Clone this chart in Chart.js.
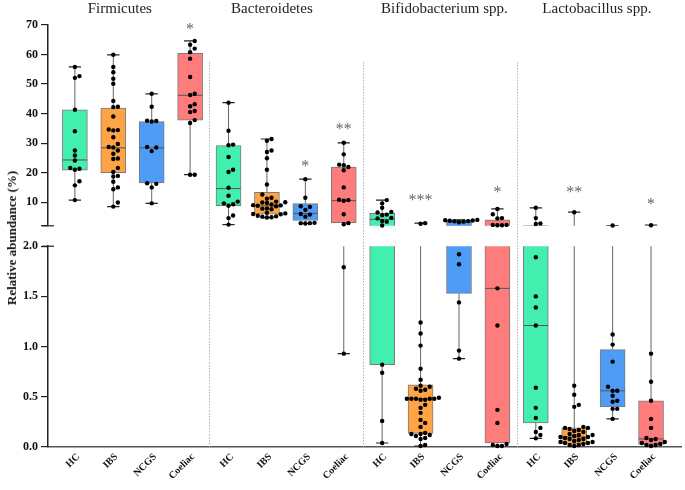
<!DOCTYPE html>
<html>
<head>
<meta charset="utf-8">
<script src="https://cdn.jsdelivr.net/npm/chart.js@4.4.1/dist/chart.umd.min.js"></script>
<style>
  body { margin: 0; background: #fff; }
  #wrap { position: relative; width: 685px; height: 490px; overflow: hidden; }
  #topChart { position: absolute; left: 0; top: 0; }
  #bottomChart { position: absolute; left: 0; top: 236px; }
  #yTitle {
    position: absolute; left: 12px; top: 238px;
    transform: translate(-50%, -50%) rotate(-90deg);
    font: bold 13px "Liberation Serif", serif; color: #111; white-space: nowrap;
  }
  .cohort {
    position: absolute; height: 12px; line-height: 12px;
    font: bold 10px "Liberation Serif", serif; color: #111; white-space: nowrap;
    transform-origin: 100% 50%; transform: rotate(-45deg);
  }
</style>
</head>
<body>
<div id="wrap">
  <canvas id="topChart" width="685" height="236"></canvas>
  <canvas id="bottomChart" width="685" height="254"></canvas>
  <div id="yTitle">Relative abundance (%)</div>
</div>
<script>
// Groups, one per x position (4 cohorts x 4 taxa)
const cohorts = ['HC', 'IBS', 'NCGS', 'Coeliac'];
const taxa = ['Firmicutes', 'Bacteroidetes', 'Bifidobacterium spp.', 'Lactobacillus spp.'];
const taxaTitleX = [1.17, 5.13, 9.62, 13.59];
const cohortColors = ['#43EFAF', '#FFA444', '#4F9CF7', '#FF7C7C'];

// Box statistics (16 groups)
const boxMin = [10.7, 8.5, 9.6, 19.3, 2.4, 4.8, 2.8, 0.93, 0.04, 0.01, 0.88, 0.01, 0.086, 0.01, 0.28, 0.01];
const boxQ1 = [20.8, 20.0, 16.5, 37.8, 8.8, 5.9, 3.8, 3.1, 0.82, 0.135, 1.53, 0.04, 0.24, 0.03, 0.40, 0.026];
const boxMedian = [24.3, 28.4, 28.4, 46.2, 14.6, 8.8, 6.2, 10.5, 4.2, 0.48, 3.3, 1.58, 1.21, 0.10, 0.56, 0.08];
const boxQ3 = [41.3, 41.9, 37.3, 60.4, 29.2, 13.3, 9.5, 21.9, 6.2, 0.62, 4.0, 4.0, 2.05, 0.19, 0.97, 0.46];
const boxMax = [55.8, 59.9, 46.7, 64.6, 43.7, 31.4, 17.8, 30.1, 10.7, 2.9, 4.0, 7.7, 8.1, 6.6, 2.1, 2.2];

// Individual samples
const firmicutesPoints = [
  [55.8, 52.7, 52.1, 41.3, 34.0, 27.5, 25.8, 24.1, 21.6, 21.3, 21.0, 17.1, 15.7, 10.7],
  [59.9, 55.8, 54.0, 51.8, 50.1, 44.3, 42.3, 42.2, 39.0, 34.6, 34.4, 34.3, 32.0, 29.7, 28.7, 28.5, 27.5, 26.4, 24.8, 24.6, 21.6, 20.2, 18.9, 18.7, 16.9, 15.0, 14.4, 9.9, 8.5],
  [46.7, 42.3, 37.6, 37.5, 37.3, 28.7, 28.5, 27.3, 16.4, 16.2, 15.0, 9.6],
  [64.6, 63.3, 62.0, 60.8, 58.6, 52.4, 46.7, 46.3, 43.2, 42.5, 40.9, 40.5, 37.8, 36.8, 19.3, 19.3]
];
const bacteroidetesPoints = [
  [43.7, 34.2, 29.5, 29.3, 25.3, 21.0, 20.2, 14.9, 12.2, 10.2, 9.6, 9.3, 8.8, 5.5, 4.6, 2.4],
  [31.4, 30.8, 27.5, 27.0, 24.9, 21.0, 16.0, 12.6, 11.5, 11.2, 10.2, 10.0, 9.9, 9.7, 9.2, 9.0, 8.9, 8.8, 8.6, 7.9, 7.8, 7.6, 6.4, 6.2, 6.0, 5.9, 5.4, 5.2, 5.1, 4.9, 4.8],
  [17.8, 11.5, 8.6, 8.4, 7.4, 6.0, 5.8, 5.1, 3.0, 2.9, 2.9, 2.8],
  [30.1, 26.2, 22.7, 22.5, 21.9, 20.8, 15.0, 10.8, 10.7, 10.5, 5.9, 2.9, 2.5, 1.79, 0.93]
];
const bifidoPoints = [
  [10.7, 9.6, 8.1, 6.7, 6.5, 5.8, 5.6, 4.7, 4.5, 3.6, 3.4, 2.1, 0.82, 0.74, 0.26, 0.04],
  [2.9, 2.7, 1.24, 1.13, 1.01, 0.78, 0.67, 0.61, 0.60, 0.58, 0.57, 0.56, 0.49, 0.48, 0.48, 0.48, 0.48, 0.48, 0.47, 0.47, 0.42, 0.39, 0.34, 0.27, 0.24, 0.20, 0.14, 0.13, 0.13, 0.12, 0.11, 0.09, 0.08, 0.02, 0.01],
  [4.0, 3.9, 3.8, 3.7, 3.6, 3.5, 3.4, 3.2, 1.92, 1.82, 1.44, 0.96, 0.88],
  [7.7, 5.9, 4.6, 4.5, 2.3, 2.3, 2.2, 2.2, 1.58, 1.21, 0.37, 0.24, 0.03, 0.02, 0.01, 0.01]
];
const lactoPoints = [
  [8.1, 4.6, 2.8, 2.6, 1.89, 1.50, 1.39, 1.21, 0.59, 0.39, 0.29, 0.19, 0.15, 0.12, 0.086],
  [6.6, 0.61, 0.52, 0.42, 0.40, 0.20, 0.19, 0.19, 0.18, 0.17, 0.16, 0.15, 0.13, 0.12, 0.12, 0.11, 0.10, 0.10, 0.09, 0.08, 0.08, 0.07, 0.06, 0.05, 0.05, 0.04, 0.04, 0.03, 0.02, 0.02, 0.01],
  [2.1, 1.12, 1.02, 0.85, 0.60, 0.56, 0.56, 0.51, 0.46, 0.45, 0.38, 0.38, 0.28],
  [2.2, 0.93, 0.65, 0.46, 0.28, 0.19, 0.09, 0.08, 0.07, 0.05, 0.04, 0.03, 0.02, 0.02, 0.01]
];

// Significance marks (value = vertical centre of the mark, upper panel)
const sigText = ['', '', '', '*', '', '', '*', '**', '', '***', '', '*', '', '**', '', '*'];
const sigAt = [0, 0, 0, 69.6, 0, 0, 23.4, 35.9, 0, 11.6, 0, 14.3, 0, 14.3, 0, 10.4];

const topTicks = [2, 10, 20, 30, 40, 50, 60, 70];
const bottomTicks = [0, 0.5, 1.0, 1.5, 2.0];
const breakValue = 2;

const allPoints = [].concat(firmicutesPoints, bacteroidetesPoints, bifidoPoints, lactoPoints);
const groupIdx = allPoints.map((_, i) => i);

Chart.defaults.font.family = '"Liberation Serif", serif';
Chart.defaults.color = '#111';

const X_MIN = -0.7, X_MAX = 15.78;
const CAP = 0.16, HALF_BOX = 0.32;
const BOTTOM_TOP = 236; // page offset of the lower canvas

function buildDatasets() {
  const stems = [], caps = [], medians = [];
  groupIdx.forEach(i => {
    stems.push({ x: i, y: boxMin[i] }, { x: i, y: boxQ1[i] }, { x: i, y: null });
    stems.push({ x: i, y: boxQ3[i] }, { x: i, y: boxMax[i] }, { x: i, y: null });
    caps.push({ x: i - CAP, y: boxMax[i] }, { x: i + CAP, y: boxMax[i] }, { x: i, y: null });
    caps.push({ x: i - CAP, y: boxMin[i] }, { x: i + CAP, y: boxMin[i] }, { x: i, y: null });
    medians.push({ x: i - HALF_BOX, y: boxMedian[i] }, { x: i + HALF_BOX, y: boxMedian[i] }, { x: i, y: null });
  });
  return [
    {
      type: 'bar',
      data: groupIdx.map(i => ({ x: i, y: [boxQ1[i], boxQ3[i]] })),
      backgroundColor: groupIdx.map(i => cohortColors[i % 4]),
      borderColor: '#7a7a7a',
      borderWidth: 1,
      borderSkipped: false,
      barThickness: 25,
      order: 3
    },
    { type: 'line', data: stems, borderColor: '#666', borderWidth: 1, pointRadius: 0, spanGaps: false, order: 4 },
    { type: 'line', data: caps, borderColor: '#222', borderWidth: 1.2, pointRadius: 0, spanGaps: false, order: 2 },
    { type: 'line', data: medians, borderColor: '#555', borderWidth: 1, pointRadius: 0, spanGaps: false, order: 1 },
    {
      type: 'line', data: [], showLine: false, pointRadius: 2.2, pointBorderWidth: 0,
      pointBackgroundColor: '#000', pointBorderColor: '#000', clip: false, order: 0
    }
  ];
}

// Dotted separators between taxa + the small axis-break mark at 2
const separatorPlugin = {
  id: 'separators',
  beforeDatasetsDraw(chart, args, opts) {
    const ctx = chart.ctx, xs = chart.scales.x, ys = chart.scales.y;
    const y0 = opts.fromValue != null ? ys.getPixelForValue(opts.fromValue) : 0;
    const y1 = opts.toCanvasBottom ? chart.height : chart.chartArea.bottom;
    ctx.save();
    ctx.strokeStyle = '#b0b0b0';
    ctx.lineWidth = 1;
    ctx.setLineDash([1.5, 1.5]);
    [3.5, 7.5, 11.5].forEach(v => {
      const x = Math.round(xs.getPixelForValue(v)) + 0.5;
      ctx.beginPath(); ctx.moveTo(x, y0); ctx.lineTo(x, y1); ctx.stroke();
    });
    ctx.setLineDash([]);
    ctx.strokeStyle = '#222';
    ctx.lineWidth = 1.2;
    const yb = ys.getPixelForValue(breakValue);
    const xa = chart.chartArea.left;
    ctx.beginPath(); ctx.moveTo(xa - 6, yb); ctx.lineTo(xa + 6, yb); ctx.stroke();
    ctx.restore();
  }
};

// Taxon titles and significance stars (upper chart only)
const labelsPlugin = {
  id: 'groupLabels',
  afterDatasetsDraw(chart) {
    const ctx = chart.ctx, xs = chart.scales.x, ys = chart.scales.y;
    ctx.save();
    ctx.fillStyle = '#222';
    ctx.font = '15px "Liberation Serif", serif';
    ctx.textAlign = 'center';
    ctx.textBaseline = 'middle';
    taxa.forEach((t, k) => ctx.fillText(t, xs.getPixelForValue(taxaTitleX[k]), 9));
    ctx.fillStyle = '#666';
    ctx.font = '16px "Liberation Serif", serif';
    ctx.textBaseline = 'alphabetic';
    sigText.forEach((s, i) => {
      if (!s) return;
      ctx.fillText(s, xs.getPixelForValue(i), ys.getPixelForValue(sigAt[i]) + 8);
    });
    ctx.restore();
  }
};

function yAxis(min, max, ticks, fmt) {
  return {
    type: 'linear', min: min, max: max,
    afterBuildTicks: sc => { sc.ticks = ticks.map(v => ({ value: v })); },
    afterFit: sc => { sc.width = 48; },
    ticks: { callback: fmt, padding: 3, color: '#111', font: { size: 12, weight: 'bold' } },
    grid: { drawOnChartArea: false, drawTicks: true, tickLength: 7, color: '#222', lineWidth: 1.2 },
    border: { display: true, color: '#222', width: 1.5 }
  };
}

function xAxis(show) {
  const axis = {
    type: 'linear', min: X_MIN, max: X_MAX, display: show, offset: false,
    afterBuildTicks: sc => { sc.ticks = groupIdx.map(v => ({ value: v })); },
    ticks: { display: false },
    grid: { drawOnChartArea: false, drawTicks: false, offset: false },
    border: { display: true, color: '#555', width: 1.5 }
  };
  if (show) axis.afterFit = sc => { sc.height = 43; };
  return axis;
}

function baseOptions(isTop) {
  return {
    responsive: false,
    animation: false,
    events: [],
    layout: { padding: isTop ? { top: 25, right: 2, bottom: 8, left: 0 } : { top: 8, right: 2, bottom: 0, left: 0 } },
    plugins: {
      legend: { display: false },
      tooltip: { enabled: false },
      separators: isTop ? { fromValue: 57.5, toCanvasBottom: true } : { fromValue: null, toCanvasBottom: false }
    },
    scales: {
      x: xAxis(!isTop),
      y: isTop
        ? yAxis(breakValue, 70, topTicks, v => (v === breakValue ? '' : v))
        : yAxis(0, breakValue, bottomTicks, v => Number(v).toFixed(1))
    }
  };
}

const topChart = new Chart(document.getElementById('topChart'), {
  type: 'bar',
  data: { datasets: buildDatasets() },
  options: baseOptions(true),
  plugins: [separatorPlugin, labelsPlugin]
});

const bottomChart = new Chart(document.getElementById('bottomChart'), {
  type: 'bar',
  data: { datasets: buildDatasets() },
  options: baseOptions(false),
  plugins: [separatorPlugin]
});

// Spread overlapping dots sideways (simple beeswarm in pixel space)
function placeDots(chart, keep) {
  const xs = chart.scales.x, ys = chart.scales.y;
  const unit = xs.getPixelForValue(1) - xs.getPixelForValue(0);
  const step = 4.6, gap = 4.4;
  const out = [];
  allPoints.forEach((vals, g) => {
    const placed = [];
    vals.filter(keep).slice().sort((a, b) => a - b).forEach(v => {
      const py = ys.getPixelForValue(v);
      let dx = 0;
      for (let k = 0; k < 14; k++) {
        const cand = k === 0 ? 0 : (k % 2 ? 1 : -1) * Math.ceil(k / 2) * step;
        if (placed.every(p => (p.x - cand) ** 2 + (p.y - py) ** 2 >= gap * gap)) { dx = cand; break; }
      }
      placed.push({ x: dx, y: py });
      out.push({ x: g + dx / unit, y: v });
    });
  });
  chart.data.datasets[4].data = out;
  chart.update('none');
}

placeDots(topChart, v => v > breakValue);
placeDots(bottomChart, v => v <= breakValue);

// Slanted cohort names as page text, anchored on the lower chart's x scale
(function addCohortLabels() {
  const wrap = document.getElementById('wrap');
  const xs = bottomChart.scales.x;
  const baseY = BOTTOM_TOP + bottomChart.chartArea.bottom + 8;
  groupIdx.forEach(i => {
    const el = document.createElement('div');
    el.className = 'cohort';
    el.textContent = cohorts[i % 4];
    el.style.right = (685 - (xs.getPixelForValue(i) + 3)) + 'px';
    el.style.top = (baseY - 6) + 'px';
    wrap.appendChild(el);
  });
})();
</script>
</body>
</html>
